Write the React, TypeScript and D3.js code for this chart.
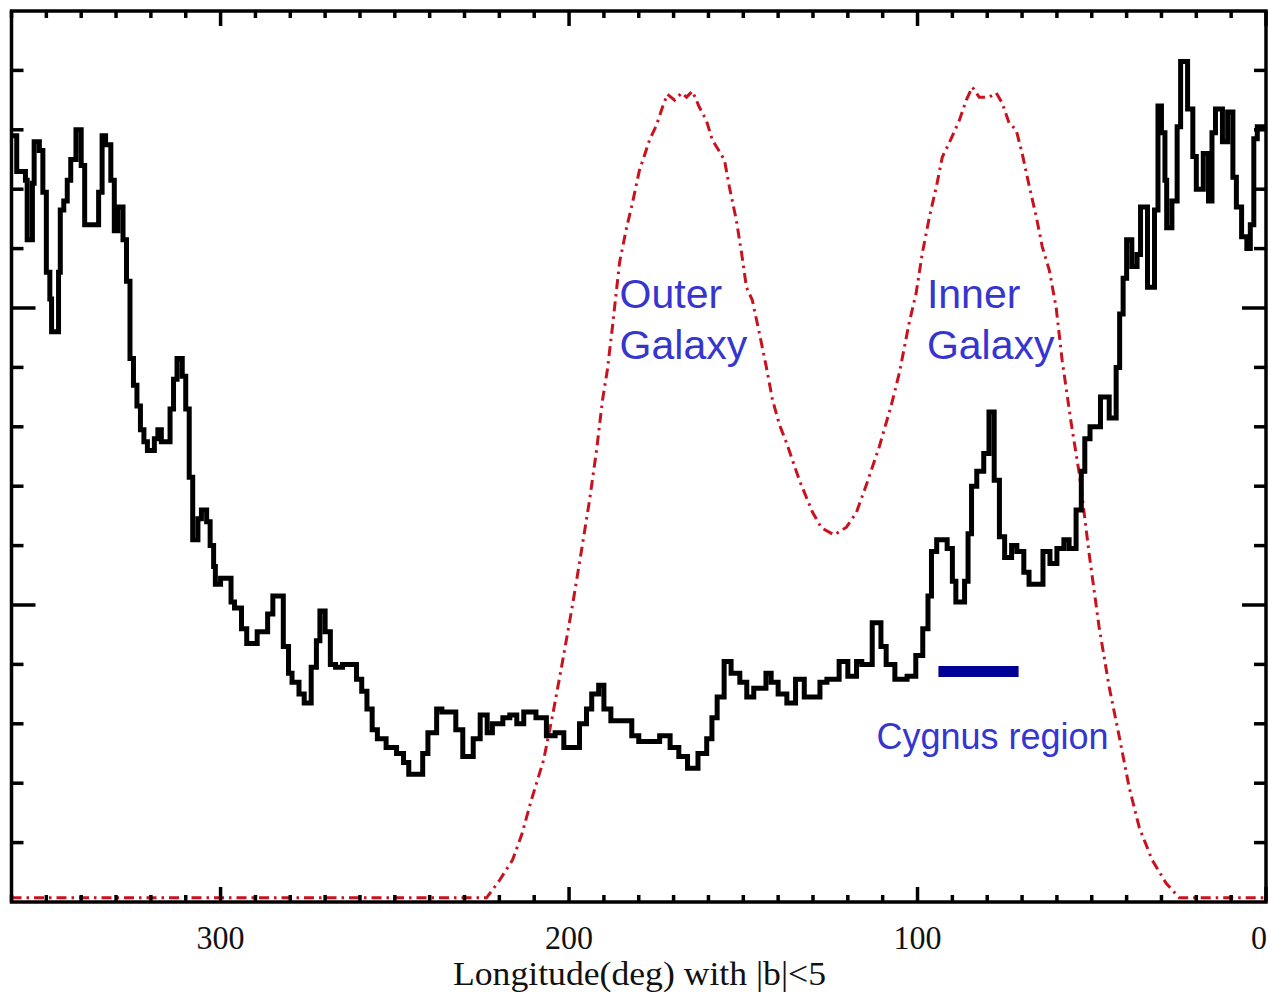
import React from "react";
import * as d3 from "d3";

// Black step histogram: longitude (deg, start of each step) and intensity (arbitrary units, 1 unit = one minor tick)
const blackLon = [360, 358.5, 356, 355.5, 354, 353.5, 352, 351, 350, 349, 348.5, 346.5, 346, 345, 344, 343, 341.5, 340, 339, 335, 334, 333, 331.5, 330.5, 329.5, 328, 327, 326, 325, 324, 323, 322, 321, 319, 318, 317, 314.5, 313.5, 312.5, 311, 310, 309, 308, 306.5, 305.5, 304, 303, 302, 301.5, 300, 297, 296, 294, 292.5, 289.5, 286.5, 285, 282, 280.5, 279.5, 277.5, 276, 274, 272.5, 271.5, 270, 268.5, 267, 265, 261, 259.5, 258, 256.5, 255, 252.5, 249.5, 247.5, 246, 242, 240.5, 238, 236.5, 232.5, 230.5, 227.5, 225.5, 223.5, 222, 219, 217, 215, 213, 209.5, 206.5, 204, 201.5, 197, 195, 193.5, 191.5, 190, 188, 182, 180, 176, 174, 171, 168.5, 166, 163, 160.5, 159, 157.5, 155.5, 153.5, 151, 149, 147, 143.5, 142, 140, 137.5, 135, 132.5, 128, 126, 122.5, 120, 117.5, 116, 113, 110.5, 109, 106.5, 103, 100.5, 98.5, 97, 96, 94.5, 91.5, 90, 89, 86.5, 85.5, 84.5, 83, 81, 79.5, 78, 76.5, 75, 73, 71.5, 69.5, 68, 64, 62, 60, 58, 56.5, 54.5, 53, 52, 50.5, 47.5, 45, 43, 42, 41, 40, 38.5, 37, 36, 34, 32, 31, 30, 29, 28.5, 27, 25.5, 24.5, 22.5, 21, 20, 18, 16.5, 15.5, 14.5, 12.5, 11, 9.5, 8.5, 7, 5.5, 4.5, 3.5, 2.5, 0];
const blackVal = [12.9, 12.3, 12.15, 11.15, 12.1, 12.8, 12.65, 11.95, 10.6, 10.15, 9.6, 10.6, 11.65, 11.8, 12.15, 12.5, 13.0, 12.4, 11.4, 11.95, 12.9, 12.75, 12.15, 11.3, 11.7, 11.15, 10.45, 9.15, 8.7, 8.35, 7.95, 7.75, 7.6, 7.8, 7.95, 7.75, 8.3, 8.8, 9.15, 8.85, 8.3, 7.15, 6.1, 6.45, 6.6, 6.4, 6.0, 5.65, 5.35, 5.45, 5.05, 4.95, 4.6, 4.35, 4.55, 4.85, 5.15, 4.3, 3.85, 3.7, 3.5, 3.35, 3.95, 4.4, 4.9, 4.55, 4.0, 3.95, 4.0, 3.75, 3.55, 3.25, 2.9, 2.75, 2.6, 2.5, 2.35, 2.15, 2.5, 2.85, 3.25, 3.2, 2.9, 2.45, 2.75, 3.15, 2.85, 3.0, 3.1, 3.15, 3.0, 3.2, 3.1, 2.8, 2.85, 2.6, 3.0, 3.25, 3.5, 3.65, 3.25, 3.05, 2.8, 2.7, 2.7, 2.8, 2.6, 2.45, 2.25, 2.5, 2.75, 3.1, 3.45, 4.05, 3.85, 3.7, 3.45, 3.6, 3.85, 3.7, 3.5, 3.35, 3.75, 3.45, 3.7, 3.75, 4.05, 3.8, 4.05, 4.0, 4.7, 4.3, 4.0, 3.75, 3.8, 4.15, 4.6, 5.15, 5.9, 6.1, 5.95, 5.4, 5.05, 5.4, 6.2, 7.0, 7.25, 7.55, 8.25, 7.1, 6.15, 5.8, 6.0, 5.9, 5.55, 5.35, 5.9, 5.7, 5.95, 6.1, 5.95, 6.6, 7.25, 7.8, 8.0, 8.5, 8.15, 9.0, 9.9, 10.5, 11.15, 10.7, 10.9, 11.7, 10.35, 11.65, 13.4, 12.95, 12.15, 11.35, 11.8, 13.05, 14.15, 13.35, 12.55, 12.0, 12.6, 11.8, 12.95, 13.35, 12.8, 13.3, 12.2, 11.7, 11.2, 11.0, 11.4, 12.85, 13.05, 13.05];

// Red dash-dot model curve
const redLon = [360, 223.7, 219.9, 216.2, 213.6, 210.8, 207.3, 204.7, 201.9, 199.0, 196.4, 194.1, 192.1, 190.4, 189.0, 187.5, 185.5, 183.5, 181.8, 179.8, 178.3, 176.9, 174.9, 173.2, 171.8, 169.7, 167.7, 166.3, 164.6, 162.6, 160.6, 158.9, 156.8, 155.4, 154.0, 152.0, 150.5, 149.1, 147.4, 145.4, 143.4, 141.6, 139.6, 137.6, 133.9, 130.2, 127.6, 123.9, 120.4, 117.6, 114.7, 111.0, 107.5, 105.2, 102.4, 100.4, 98.6, 96.6, 94.6, 92.9, 90.9, 88.0, 86.0, 84.3, 82.3, 79.4, 77.4, 75.7, 73.7, 71.7, 70.0, 67.9, 65.9, 64.2, 62.2, 60.2, 58.5, 55.9, 53.6, 50.7, 47.9, 45.0, 42.1, 39.3, 36.4, 32.7, 28.7, 24.9, 0];
const redVal = [0.07, 0.07, 0.37, 0.71, 1.13, 1.72, 2.39, 3.15, 4.04, 5.0, 5.93, 6.77, 7.61, 8.45, 8.96, 9.71, 10.77, 11.35, 11.77, 12.32, 12.58, 12.83, 13.08, 13.38, 13.6, 13.5, 13.62, 13.55, 13.65, 13.38, 13.16, 12.83, 12.63, 12.49, 12.04, 11.48, 10.93, 10.35, 10.13, 9.58, 9.01, 8.45, 8.03, 7.73, 7.1, 6.57, 6.3, 6.18, 6.31, 6.55, 7.02, 7.66, 8.37, 8.91, 9.75, 10.25, 10.93, 11.53, 12.04, 12.54, 12.78, 13.16, 13.5, 13.72, 13.55, 13.55, 13.62, 13.45, 13.11, 13.0, 12.61, 12.04, 11.53, 11.03, 10.64, 10.0, 9.12, 8.06, 7.22, 5.84, 4.63, 3.62, 2.78, 1.94, 1.26, 0.71, 0.32, 0.07, 0.07];

// Axis ticks
const xMinorTicks = d3.range(0, 361, 10);
const xMajorTicks = [300, 200, 100, 0];
const xTickLabels = ["300", "200", "100", "0"];
const yMinorTicks = d3.range(1, 15, 1);
const yMajorTicks = [5, 10];

// Annotations
const cygnusRange = [94, 71];
const cygnusLevel = 3.88;
const outerLabel = ["Outer", "Galaxy"];
const innerLabel = ["Inner", "Galaxy"];
const outerLabelPos = [185.5, 10.0];
const innerLabelPos = [97.3, 10.0];
const cygnusLabelPos = [111.8, 2.57];
const xAxisTitle = "Longitude(deg) with |b|<5";

const W = 1269;
const H = 995;
const X0 = 11.5;
const X1 = 1266;
const Y0 = 902;
const Y1 = 11;

export default function App() {
  const x = d3.scaleLinear().domain([360, 0]).range([X0, X1]);
  const y = d3.scaleLinear().domain([0, 15]).range([Y0, Y1]);

  const blackPts: [number, number][] = blackLon.map((l, i) => [l, blackVal[i]]);
  const redPts: [number, number][] = redLon.map((l, i) => [l, redVal[i]]);

  const stepLine = d3
    .line<[number, number]>()
    .x((d) => x(d[0]))
    .y((d) => y(d[1]))
    .curve(d3.curveStepAfter);
  const redLine = d3
    .line<[number, number]>()
    .x((d) => x(d[0]))
    .y((d) => y(d[1]))
    .curve(d3.curveLinear);

  const blue = "#3636cf";
  const tickW = 3.5;

  return (
    <svg
      width={W}
      height={H}
      style={{ position: "absolute", left: 0, top: 0, background: "#fff" }}
    >
      <rect x={0} y={0} width={W} height={H} fill="#fff" />
      <defs>
        <clipPath id="plot">
          <rect x={X0} y={Y1} width={X1 - X0} height={Y0 - Y1} />
        </clipPath>
      </defs>

      {/* red model curve */}
      <path
        d={redLine(redPts) || ""}
        fill="none"
        stroke="#c8121e"
        strokeWidth={3}
        strokeDasharray="10,5,2.5,5"
        clipPath="url(#plot)"
      />

      {/* black histogram */}
      <path
        d={stepLine(blackPts) || ""}
        fill="none"
        stroke="#000"
        strokeWidth={5}
        strokeLinejoin="miter"
        clipPath="url(#plot)"
      />

      {/* Cygnus bar */}
      <line
        x1={x(cygnusRange[0])}
        x2={x(cygnusRange[1])}
        y1={y(cygnusLevel)}
        y2={y(cygnusLevel)}
        stroke="#000096"
        strokeWidth={11}
      />

      {/* ticks */}
      {xMinorTicks.map((t) => {
        const major = xMajorTicks.includes(t);
        const len = major ? 15 : 7;
        return (
          <g key={"xt" + t}>
            <line x1={x(t)} x2={x(t)} y1={Y0} y2={Y0 - len} stroke="#000" strokeWidth={tickW} />
            <line x1={x(t)} x2={x(t)} y1={Y1} y2={Y1 + len} stroke="#000" strokeWidth={tickW} />
          </g>
        );
      })}
      {yMinorTicks.map((t) => {
        const major = yMajorTicks.includes(t);
        const len = major ? 24 : 12;
        return (
          <g key={"yt" + t}>
            <line x1={X0} x2={X0 + len} y1={y(t)} y2={y(t)} stroke="#000" strokeWidth={tickW} />
            <line x1={X1} x2={X1 - len} y1={y(t)} y2={y(t)} stroke="#000" strokeWidth={tickW} />
          </g>
        );
      })}

      {/* frame */}
      <rect
        x={X0}
        y={Y1}
        width={X1 - X0}
        height={Y0 - Y1}
        fill="none"
        stroke="#000"
        strokeWidth={3.5}
      />

      {/* tick labels */}
      {xMajorTicks.map((t, i) => (
        <text
          key={"xl" + t}
          x={Math.min(x(t), W - 10)}
          y={949}
          textAnchor="middle"
          fontFamily="'Liberation Serif', 'Times New Roman', serif"
          fontSize={34}
          textLength={xTickLabels[i].length * 16}
          lengthAdjust="spacingAndGlyphs"
          fill="#111"
        >
          {xTickLabels[i]}
        </text>
      ))}

      {/* axis title */}
      <text
        x={639.5}
        y={985}
        textAnchor="middle"
        fontFamily="'Liberation Serif', 'Times New Roman', serif"
        fontSize={34}
        textLength={373}
        lengthAdjust="spacingAndGlyphs"
        fill="#111"
      >
        {xAxisTitle}
      </text>

      {/* annotations */}
      {outerLabel.map((s, i) => (
        <text
          key={"o" + i}
          x={x(outerLabelPos[0])}
          y={y(outerLabelPos[1]) + i * 51}
          fontFamily="'Liberation Sans', Arial, sans-serif"
          fontSize={41}
          fill={blue}
        >
          {s}
        </text>
      ))}
      {innerLabel.map((s, i) => (
        <text
          key={"i" + i}
          x={x(innerLabelPos[0])}
          y={y(innerLabelPos[1]) + i * 51}
          fontFamily="'Liberation Sans', Arial, sans-serif"
          fontSize={41}
          fill={blue}
        >
          {s}
        </text>
      ))}
      <text
        x={x(cygnusLabelPos[0])}
        y={y(cygnusLabelPos[1])}
        fontFamily="'Liberation Sans', Arial, sans-serif"
        fontSize={36}
        fill={blue}
      >
        Cygnus region
      </text>
    </svg>
  );
}
